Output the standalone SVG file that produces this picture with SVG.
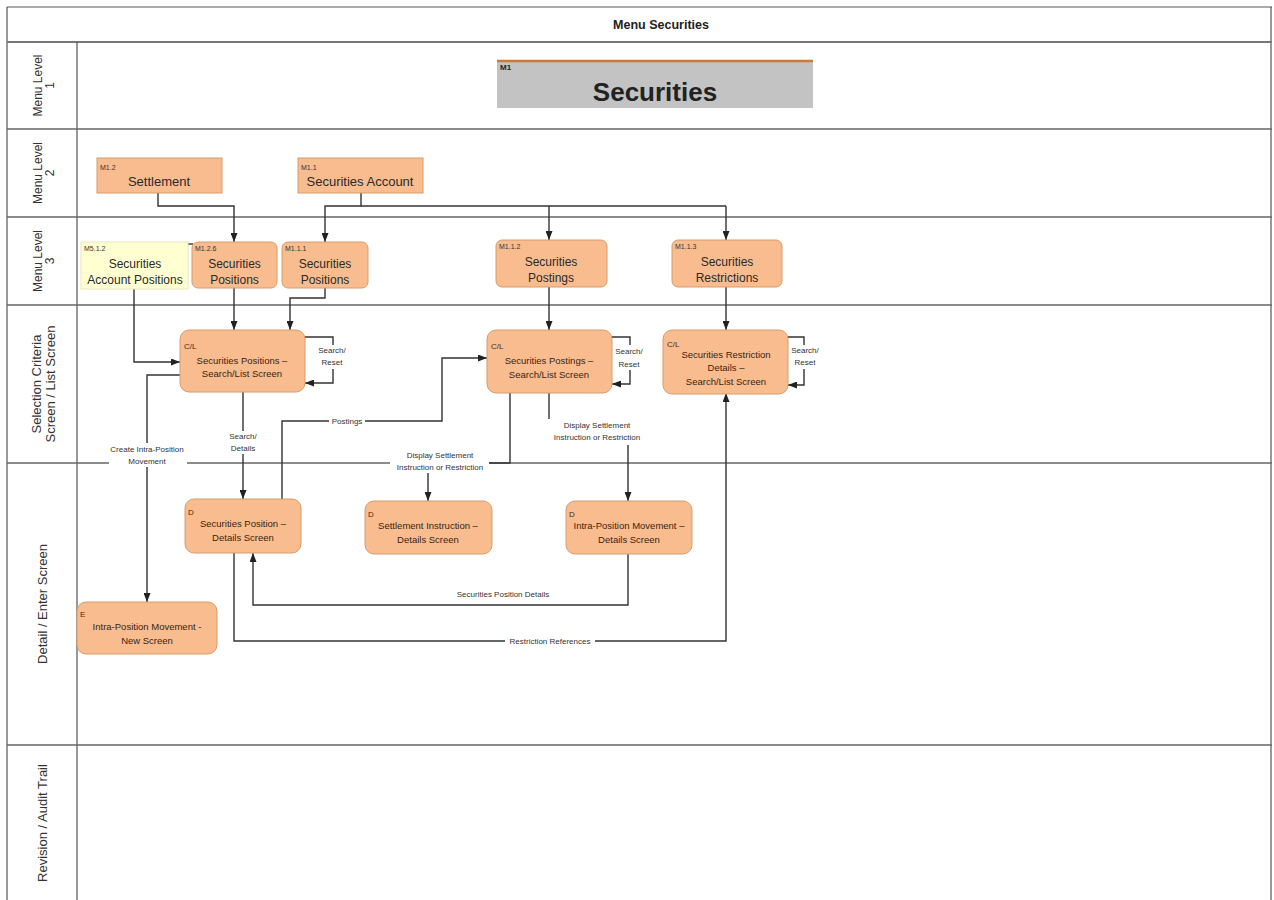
<svg xmlns="http://www.w3.org/2000/svg" width="1274" height="900" viewBox="0 0 1274 900">
<defs>
<marker id="arr" viewBox="0 0 9 7" refX="9" refY="3.5" markerWidth="9" markerHeight="7" markerUnits="userSpaceOnUse" orient="auto"><path d="M0,0 L9,3.5 L0,7 z" fill="#222"/></marker>
<style>
text{font-family:"Liberation Sans",Arial,sans-serif;fill:#222}
.lane{font-size:13px;fill:#333}
.lane12{font-size:12px;fill:#333}
.frame{stroke:#555;stroke-width:1.2;fill:none}
.lline{stroke:#666;stroke-width:1.5}
.n{fill:#f9bc8f;stroke:#d69c6c;stroke-width:1}
.y{fill:#ffffd2;stroke:#e8e8b8;stroke-width:1}
.id{font-size:7px;fill:#333}
.idb{font-size:8px;fill:#4a2a10}
.t13{font-size:13px;text-anchor:middle;fill:#2a2a2a}
.t12{font-size:12px;text-anchor:middle;fill:#2a2a2a}
.t9{font-size:9.5px;text-anchor:middle;fill:#3a2410}
.c{stroke:#333;stroke-width:1.4;fill:none}
.ca{stroke:#333;stroke-width:1.4;fill:none;marker-end:url(#arr)}
.lab{font-size:8px;text-anchor:middle;fill:#333}
.bg{fill:#fff}
</style>
</defs>
<rect width="1274" height="900" fill="#fff"/>
<g id="frame">
<line x1="7" y1="7" x2="1272" y2="7" class="frame"/>
<line x1="7" y1="7" x2="7" y2="900" class="frame"/>
<line x1="1271" y1="7" x2="1271" y2="900" class="frame"/>
<line x1="7" y1="42" x2="1272" y2="42" stroke="#777" stroke-width="2"/>
<line x1="77" y1="42" x2="77" y2="900" class="frame"/>
<line x1="7" y1="129" x2="1272" y2="129" class="lline"/>
<line x1="7" y1="217" x2="1272" y2="217" class="lline"/>
<line x1="7" y1="305" x2="1272" y2="305" class="lline"/>
<line x1="7" y1="463" x2="1272" y2="463" class="lline"/>
<line x1="7" y1="745" x2="1272" y2="745" class="lline"/>
<text x="661" y="29" font-size="12.5" font-weight="bold" text-anchor="middle">Menu Securities</text>
</g>
<g id="lanes">
<text class="lane12" transform="translate(42,85.5) rotate(-90)" text-anchor="middle">Menu Level<tspan x="0" dy="12">1</tspan></text>
<text class="lane12" transform="translate(42,173) rotate(-90)" text-anchor="middle">Menu Level<tspan x="0" dy="12">2</tspan></text>
<text class="lane12" transform="translate(42,261) rotate(-90)" text-anchor="middle">Menu Level<tspan x="0" dy="12">3</tspan></text>
<text class="lane" transform="translate(41,384) rotate(-90)" text-anchor="middle">Selection Criteria<tspan x="0" dy="14">Screen / List Screen</tspan></text>
<text class="lane" transform="translate(47,604) rotate(-90)" text-anchor="middle">Detail / Enter Screen</text>
<text class="lane" transform="translate(47,823) rotate(-90)" text-anchor="middle">Revision / Audit Trail</text>
</g>
<g id="connectors">
<path class="ca" d="M158 193 V206 H234 V242"/>
<path class="ca" d="M361 193 V206 H325 V242"/>
<path class="c" d="M361 206 H726"/>
<path class="ca" d="M549 206 V240"/>
<path class="ca" d="M726 206 V240"/>
<path class="c" d="M181 244 H193"/>
<path class="ca" d="M134 288 V362 H180"/>
<path class="ca" d="M234 288 V330"/>
<path class="ca" d="M325 288 V298 H290 V330"/>
<path class="ca" d="M305 337 H333 V383 H305"/>
<path class="ca" d="M612 337 H630 V384 H612"/>
<path class="ca" d="M788 337 H804 V385 H788"/>
<path class="ca" d="M549 287 V330"/>
<path class="ca" d="M726 287 V330"/>
<path class="ca" d="M243 392 V499"/>
<path class="ca" d="M180 375 H147 V602"/>
<path class="ca" d="M282 499 V421 H442 V358 H487"/>
<path class="ca" d="M510 393 V463 H428 V501"/>
<path class="ca" d="M549 393 V440 H628 V501"/>
<path class="ca" d="M628 554 V605 H253 V553"/>
<path class="ca" d="M234 553 V641 H726 V393"/>
<rect class="bg" x="316" y="345" width="32" height="24"/>
<text class="lab" x="332" y="353">Search/</text>
<text class="lab" x="332" y="365">Reset</text>
<rect class="bg" x="613" y="345" width="32" height="25"/>
<text class="lab" x="629" y="354">Search/</text>
<text class="lab" x="629" y="367">Reset</text>
<rect class="bg" x="789" y="345" width="32" height="24"/>
<text class="lab" x="805" y="353">Search/</text>
<text class="lab" x="805" y="365">Reset</text>
<rect class="bg" x="226" y="431" width="34" height="23"/>
<text class="lab" x="243" y="439">Search/</text>
<text class="lab" x="243" y="451">Details</text>
<rect class="bg" x="109" y="443" width="78" height="24"/>
<text class="lab" x="147" y="452">Create Intra-Position</text>
<text class="lab" x="147" y="464">Movement</text>
<rect class="bg" x="329" y="416" width="36" height="10"/>
<text class="lab" x="347" y="424">Postings</text>
<rect class="bg" x="390" y="449" width="99" height="24"/>
<text class="lab" x="440" y="458">Display Settlement</text>
<text class="lab" x="440" y="470">Instruction or Restriction</text>
<rect class="bg" x="547" y="419" width="100" height="26"/>
<text class="lab" x="597" y="428">Display Settlement</text>
<text class="lab" x="597" y="440">Instruction or Restriction</text>
<text class="lab" x="503" y="597">Securities Position Details</text>
<rect class="bg" x="505" y="636" width="90" height="10"/>
<text class="lab" x="550" y="644">Restriction References</text>
</g>
<g id="m1">
<rect x="497" y="61" width="316" height="47" fill="#c3c3c3"/>
<line x1="497" y1="61" x2="813" y2="61" stroke="#cc7a3a" stroke-width="2.5"/>
<text x="500" y="70" font-size="8" font-weight="bold">M1</text>
<text x="655" y="101" font-size="26" font-weight="bold" text-anchor="middle" fill="#1a1a1a">Securities</text>
</g>
<g id="m1-2">
<rect class="n" x="97" y="158" width="125" height="35"/>
<text class="id" x="100" y="170">M1.2</text>
<text class="t13" x="159" y="186">Settlement</text>
</g>
<g id="m1-1">
<rect class="n" x="298" y="158" width="125" height="35"/>
<text class="id" x="301" y="170">M1.1</text>
<text class="t13" x="360" y="186">Securities Account</text>
</g>
<g id="m5-1-2">
<rect class="y" x="81" y="242" width="107" height="47"/>
<text class="id" x="84" y="251">M5.1.2</text>
<text class="t12" x="135" y="268">Securities</text>
<text class="t12" x="135" y="284">Account Positions</text>
</g>
<g id="m1-2-6">
<rect class="n" x="192" y="242" width="85" height="46" rx="6"/>
<text class="id" x="195" y="251">M1.2.6</text>
<text class="t12" x="234.5" y="268">Securities</text>
<text class="t12" x="234.5" y="284">Positions</text>
</g>
<g id="m1-1-1">
<rect class="n" x="282" y="242" width="86" height="46" rx="6"/>
<text class="id" x="285" y="251">M1.1.1</text>
<text class="t12" x="325" y="268">Securities</text>
<text class="t12" x="325" y="284">Positions</text>
</g>
<g id="m1-1-2">
<rect class="n" x="496" y="240" width="111" height="47" rx="6"/>
<text class="id" x="499" y="249">M1.1.2</text>
<text class="t12" x="551" y="266">Securities</text>
<text class="t12" x="551" y="282">Postings</text>
</g>
<g id="m1-1-3">
<rect class="n" x="672" y="240" width="110" height="47" rx="6"/>
<text class="id" x="675" y="249">M1.1.3</text>
<text class="t12" x="727" y="266">Securities</text>
<text class="t12" x="727" y="282">Restrictions</text>
</g>
<g id="cl-positions">
<rect class="n" x="180" y="330" width="125" height="62" rx="9"/>
<text class="idb" x="184" y="349">C/L</text>
<text class="t9" x="242" y="364">Securities Positions –</text>
<text class="t9" x="242" y="377">Search/List Screen</text>
</g>
<g id="cl-postings">
<rect class="n" x="487" y="330" width="125" height="63" rx="9"/>
<text class="idb" x="491" y="349">C/L</text>
<text class="t9" x="549" y="364">Securities Postings –</text>
<text class="t9" x="549" y="378">Search/List Screen</text>
</g>
<g id="cl-restrictions">
<rect class="n" x="663" y="330" width="125" height="64" rx="9"/>
<text class="idb" x="667" y="347">C/L</text>
<text class="t9" x="726" y="358">Securities Restriction</text>
<text class="t9" x="726" y="371">Details –</text>
<text class="t9" x="726" y="385">Search/List Screen</text>
</g>
<g id="d-position">
<rect class="n" x="185" y="499" width="116" height="54" rx="9"/>
<text class="idb" x="188" y="515">D</text>
<text class="t9" x="243" y="527">Securities Position –</text>
<text class="t9" x="243" y="541">Details Screen</text>
</g>
<g id="d-settlement">
<rect class="n" x="365" y="501" width="127" height="53" rx="9"/>
<text class="idb" x="368" y="517">D</text>
<text class="t9" x="428" y="529">Settlement Instruction –</text>
<text class="t9" x="428" y="543">Details Screen</text>
</g>
<g id="d-intra">
<rect class="n" x="566" y="501" width="126" height="53" rx="9"/>
<text class="idb" x="569" y="517">D</text>
<text class="t9" x="629" y="529">Intra-Position Movement –</text>
<text class="t9" x="629" y="543">Details Screen</text>
</g>
<g id="e-intra">
<rect class="n" x="77" y="602" width="140" height="52" rx="9"/>
<text class="idb" x="80" y="617">E</text>
<text class="t9" x="147" y="630">Intra-Position Movement -</text>
<text class="t9" x="147" y="644">New Screen</text>
</g>
</svg>
